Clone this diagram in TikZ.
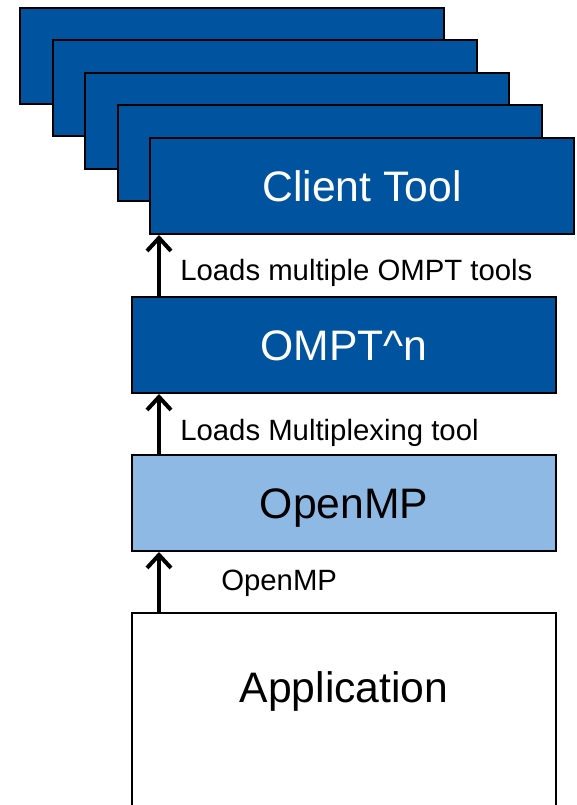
\documentclass[tikz,border=0pt]{standalone}
\usepackage{fontspec}
\setmainfont{Liberation Sans}
\usetikzlibrary{arrows.meta,positioning}
\definecolor{toolblue}{RGB}{0,84,159}
\definecolor{ompblue}{RGB}{142,185,228}
\newcommand{\px}{0.75pt}
\tikzset{
    boxsty/.style={draw=black,line width=1.5pt,rectangle,anchor=north west,
        minimum width=424*\px,minimum height=96*\px,inner sep=0pt,
        font=\fontsize{32}{32}\selectfont,text height=23pt,text depth=0pt},
    cardsty/.style={boxsty,fill=toolblue,text=white},
    lowsty/.style={boxsty,fill=ompblue,text=black},
    appsty/.style={boxsty,fill=white,text=black,text height=89*\px,text depth=130*\px},
    lblsty/.style={anchor=base west,inner sep=0pt,font=\fontsize{22}{22}\selectfont},
    arrsty/.style={->,line width=3pt},
}
\begin{document}
\begin{tikzpicture}[x=\px,y=-\px,>={Straight Barb[length=13*\px,width=24*\px]}]
\useasboundingbox (0,0) rectangle (577,805);
\clip (0,0) rectangle (577,805);
% copies of the tool stacked behind
\foreach \i in {0,...,3}
    \node[cardsty] (card\i) at (19+32.5*\i,7+32.5*\i) {};
\node[cardsty] (client) at (149,137) {Client Tool};
\node[cardsty] (ompt) at (131,296) {OMPT\textasciicircum n};
\node[lowsty] (omp) at (131,454) {OpenMP};
\node[appsty] (app) at (131,612) {Application};

\draw[arrsty] ([xshift=28*\px]ompt.north west) -- ([xshift=28*\px]ompt.north west |- client.south);
\draw[arrsty] ([xshift=28*\px]omp.north west) -- ([xshift=28*\px]omp.north west |- ompt.south);
\draw[arrsty] ([xshift=28*\px]app.north west) -- ([xshift=28*\px]app.north west |- omp.south);

\node[lblsty] (lbltools) at (180,280) {Loads multiple OMPT tools};
\node[lblsty] (lblmux) at (180,440) {Loads Multiplexing tool};
\node[lblsty] (lblomp) at (221,590) {OpenMP};
\end{tikzpicture}
\end{document}
